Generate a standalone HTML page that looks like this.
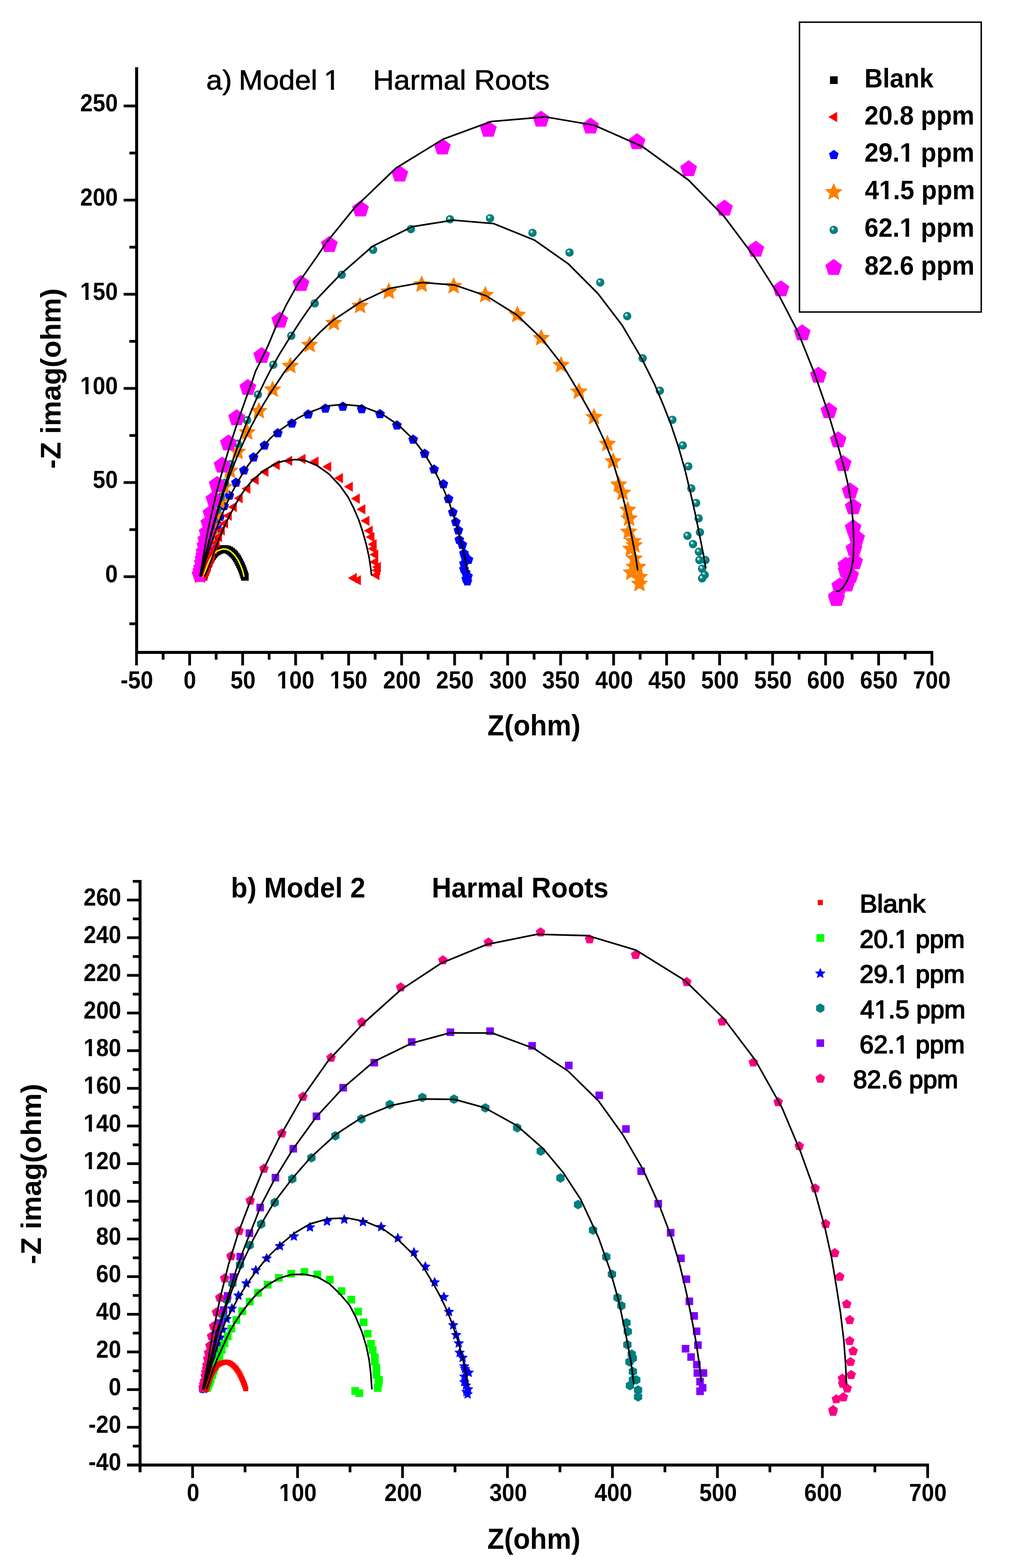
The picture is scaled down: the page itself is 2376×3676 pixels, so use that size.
<!DOCTYPE html>
<html lang="en"><head><meta charset="utf-8"><title>Nyquist plots - Harmal Roots</title>
<style>
html,body{margin:0;padding:0;background:#fff}
body{width:2376px;height:3676px}
svg{display:block}
text{fill:#000;font-kerning:none}
</style></head><body>
<svg width="2376" height="3676" viewBox="0 0 2376 3676" font-family="'Liberation Sans', sans-serif" role="img" aria-label="Nyquist plots of Harmal Roots extract, model 1 and model 2">
<defs><radialGradient id="gs" cx="0.5" cy="0.5" r="0.5" fx="0.33" fy="0.3"><stop offset="0" stop-color="#ffffff"/><stop offset="0.14" stop-color="#e0f0f0"/><stop offset="0.34" stop-color="#349999"/><stop offset="0.52" stop-color="#008080"/><stop offset="1" stop-color="#007a7a"/></radialGradient><polygon id="bR" points="-6,-6 6,-6 6,6 -6,6" fill="#ff0000"/><polygon id="bG" points="-9,-9 9,-9 9,9 -9,9" fill="#00ff00"/><polygon id="bB" points="0,-11.4 3.08,-4.24 10.84,-3.52 4.99,1.62 6.7,9.22 0,5.24 -6.7,9.22 -4.99,1.62 -10.84,-3.52 -3.08,-4.24" fill="#0000ff" stroke="#0000ff" stroke-width="1.6" stroke-linejoin="round"/><polygon id="bT" points="0,-11.2 9.7,-5.6 9.7,5.6 0,11.2 -9.7,5.6 -9.7,-5.6" fill="#008080"/><polygon id="bP" points="-8.9,-8.9 8.9,-8.9 8.9,8.9 -8.9,8.9" fill="#8000ff"/><polygon id="bK" points="0,-11.8 11.22,-3.65 6.94,9.55 -6.94,9.55 -11.22,-3.65" fill="#ff0080"/><polygon id="aK" points="-9,-9 9,-9 9,9 -9,9" fill="#000000"/><polygon id="aR" points="-13.8,0 6.9,-11.95 6.9,11.95" fill="#ff0000"/><polygon id="aB" points="0,-12 11.41,-3.71 7.05,9.71 -7.05,9.71 -11.41,-3.71" fill="#0000ff"/><polygon id="aO" points="0,-19.9 5.38,-7.41 18.93,-6.15 8.71,2.83 11.7,16.1 0,9.15 -11.7,16.1 -8.71,2.83 -18.93,-6.15 -5.38,-7.41" fill="#ff8000" stroke="#ff8000" stroke-width="1.6" stroke-linejoin="round"/><circle id="aT" r="9.8" fill="url(#gs)"/><polygon id="aM" points="0,-20.7 19.69,-6.4 12.17,16.75 -12.17,16.75 -19.69,-6.4" fill="#ff00ff"/></defs>
<rect width="2376" height="3676" fill="#fff"/>
<g id="plotA">
<g><use href="#aK" x="477.5" y="1352.2"/><use href="#aK" x="479" y="1347.2"/><use href="#aK" x="480.6" y="1342.2"/><use href="#aK" x="482.2" y="1337.2"/><use href="#aK" x="483.9" y="1332.3"/><use href="#aK" x="485.7" y="1327.4"/><use href="#aK" x="487.6" y="1322.5"/><use href="#aK" x="489.6" y="1317.6"/><use href="#aK" x="491.8" y="1312.9"/><use href="#aK" x="494.4" y="1308.4"/><use href="#aK" x="497.3" y="1304"/><use href="#aK" x="500.4" y="1299.8"/><use href="#aK" x="503.9" y="1295.9"/><use href="#aK" x="508.1" y="1292.8"/><use href="#aK" x="512.7" y="1290.4"/><use href="#aK" x="517.6" y="1288.5"/><use href="#aK" x="522.7" y="1287.3"/><use href="#aK" x="527.9" y="1287.2"/><use href="#aK" x="533" y="1288.3"/><use href="#aK" x="537.8" y="1290.5"/><use href="#aK" x="542.1" y="1293.5"/><use href="#aK" x="546" y="1296.9"/><use href="#aK" x="549.6" y="1300.7"/><use href="#aK" x="552.8" y="1304.8"/><use href="#aK" x="555.8" y="1309.1"/><use href="#aK" x="558.4" y="1313.6"/><use href="#aK" x="560.8" y="1318.3"/><use href="#aK" x="563.1" y="1323"/><use href="#aK" x="565.3" y="1327.7"/><use href="#aK" x="567.4" y="1332.6"/><use href="#aK" x="569.3" y="1337.4"/><use href="#aK" x="571" y="1342.4"/><use href="#aK" x="572.7" y="1347.3"/><use href="#aK" x="574.3" y="1352.3"/></g>
<g><use href="#aB" x="471.4" y="1350.2"/><use href="#aB" x="471.4" y="1350.2"/><use href="#aB" x="472.1" y="1348.1"/><use href="#aB" x="472.8" y="1346"/><use href="#aB" x="473.5" y="1344"/><use href="#aB" x="474.2" y="1341.9"/><use href="#aB" x="475" y="1339.8"/><use href="#aB" x="475.7" y="1337.7"/><use href="#aB" x="476.4" y="1335.7"/><use href="#aB" x="477.1" y="1333.6"/><use href="#aB" x="477.9" y="1331.5"/><use href="#aB" x="478.6" y="1329.4"/><use href="#aB" x="479.3" y="1327.3"/><use href="#aB" x="480.1" y="1324.9"/><use href="#aB" x="481.1" y="1322.2"/><use href="#aB" x="482.2" y="1319"/><use href="#aB" x="483.4" y="1315.4"/><use href="#aB" x="484.8" y="1311.2"/><use href="#aB" x="486.4" y="1306.4"/><use href="#aB" x="488.2" y="1300.8"/><use href="#aB" x="490.3" y="1294.4"/><use href="#aB" x="492.7" y="1287.1"/><use href="#aB" x="495.4" y="1278.7"/><use href="#aB" x="498.3" y="1268.9"/><use href="#aB" x="501.7" y="1257.7"/><use href="#aB" x="505.5" y="1244.8"/><use href="#aB" x="510.4" y="1230.1"/><use href="#aB" x="516.3" y="1211.6"/><use href="#aB" x="525.4" y="1186.4"/><use href="#aB" x="538" y="1161.9"/><use href="#aB" x="553.5" y="1131.5"/><use href="#aB" x="572.1" y="1102.9"/><use href="#aB" x="594.6" y="1072.3"/><use href="#aB" x="620.3" y="1044.4"/><use href="#aB" x="651.6" y="1015.6"/><use href="#aB" x="684.6" y="992.8"/><use href="#aB" x="722.8" y="971.5"/><use href="#aB" x="763.2" y="957.7"/><use href="#aB" x="804.1" y="953.3"/><use href="#aB" x="848.4" y="959"/><use href="#aB" x="891.4" y="970.7"/><use href="#aB" x="931" y="997.2"/><use href="#aB" x="969.1" y="1030.5"/><use href="#aB" x="996.1" y="1063.7"/><use href="#aB" x="1018.2" y="1100.6"/><use href="#aB" x="1040" y="1135"/><use href="#aB" x="1052.1" y="1169.8"/><use href="#aB" x="1062.1" y="1201.1"/><use href="#aB" x="1069.2" y="1224"/><use href="#aB" x="1075.2" y="1243.5"/><use href="#aB" x="1077.3" y="1265.5"/><use href="#aB" x="1084.4" y="1277.2"/><use href="#aB" x="1088.3" y="1297.5"/><use href="#aB" x="1089.9" y="1303.4"/><use href="#aB" x="1098.8" y="1312.3"/><use href="#aB" x="1088.3" y="1321.4"/><use href="#aB" x="1088.3" y="1334.4"/><use href="#aB" x="1092.4" y="1342.4"/><use href="#aB" x="1097.5" y="1351.2"/><use href="#aB" x="1096.2" y="1362.9"/><use href="#aB" x="1093.4" y="1357.4"/></g>
<g><use href="#aO" x="469.3" y="1350.2"/><use href="#aO" x="470.9" y="1344.7"/><use href="#aO" x="473.6" y="1334.7"/><use href="#aO" x="476.8" y="1323.2"/><use href="#aO" x="480.5" y="1309.9"/><use href="#aO" x="484.7" y="1294.7"/><use href="#aO" x="489.4" y="1277.2"/><use href="#aO" x="494.1" y="1256.9"/><use href="#aO" x="499.6" y="1233.6"/><use href="#aO" x="506.5" y="1206.9"/><use href="#aO" x="515.9" y="1176.7"/><use href="#aO" x="525.7" y="1141.6"/><use href="#aO" x="539.1" y="1103.6"/><use href="#aO" x="557.2" y="1059.4"/><use href="#aO" x="579.8" y="1013.6"/><use href="#aO" x="607.2" y="963.9"/><use href="#aO" x="639.4" y="913.4"/><use href="#aO" x="680.9" y="858"/><use href="#aO" x="726.2" y="808.6"/><use href="#aO" x="782.9" y="757.2"/><use href="#aO" x="844.5" y="717.2"/><use href="#aO" x="911.9" y="683.7"/><use href="#aO" x="989" y="667.1"/><use href="#aO" x="1064" y="671"/><use href="#aO" x="1138.2" y="691.7"/><use href="#aO" x="1213.6" y="738.2"/><use href="#aO" x="1269.4" y="792.8"/><use href="#aO" x="1316" y="855.9"/><use href="#aO" x="1357.8" y="918.2"/><use href="#aO" x="1393.2" y="978"/><use href="#aO" x="1424.7" y="1040.8"/><use href="#aO" x="1438" y="1081.6"/><use href="#aO" x="1451.2" y="1136.4"/><use href="#aO" x="1460.3" y="1155.4"/><use href="#aO" x="1472.4" y="1195.4"/><use href="#aO" x="1475.6" y="1215.8"/><use href="#aO" x="1474.6" y="1246.8"/><use href="#aO" x="1484.9" y="1269"/><use href="#aO" x="1487.6" y="1278.5"/><use href="#aO" x="1479.4" y="1286.9"/><use href="#aO" x="1487.6" y="1309.6"/><use href="#aO" x="1487.7" y="1329"/><use href="#aO" x="1495.7" y="1329.2"/><use href="#aO" x="1480.6" y="1342.6"/><use href="#aO" x="1499.9" y="1353"/><use href="#aO" x="1499.9" y="1368.9"/></g>
<g><use href="#aT" x="469.8" y="1350.2"/><use href="#aT" x="471" y="1345.8"/><use href="#aT" x="472.6" y="1339.7"/><use href="#aT" x="474.5" y="1332.5"/><use href="#aT" x="476.6" y="1324.4"/><use href="#aT" x="479" y="1315"/><use href="#aT" x="481.9" y="1304.2"/><use href="#aT" x="485.1" y="1291.8"/><use href="#aT" x="488.7" y="1277.5"/><use href="#aT" x="492.4" y="1261"/><use href="#aT" x="496.7" y="1242"/><use href="#aT" x="501.6" y="1220.2"/><use href="#aT" x="509.4" y="1195.8"/><use href="#aT" x="518.1" y="1165.5"/><use href="#aT" x="527.7" y="1132.3"/><use href="#aT" x="541.4" y="1088"/><use href="#aT" x="557.6" y="1040.3"/><use href="#aT" x="579.4" y="985.2"/><use href="#aT" x="605" y="925.1"/><use href="#aT" x="641" y="855.1"/><use href="#aT" x="683.2" y="787.3"/><use href="#aT" x="738.2" y="711.2"/><use href="#aT" x="801.5" y="644.2"/><use href="#aT" x="875.2" y="585.5"/><use href="#aT" x="963.7" y="537.1"/><use href="#aT" x="1055.4" y="514.1"/><use href="#aT" x="1149.4" y="511.7"/><use href="#aT" x="1249" y="546"/><use href="#aT" x="1335.8" y="592"/><use href="#aT" x="1407.9" y="662.1"/><use href="#aT" x="1471.1" y="741.1"/><use href="#aT" x="1507.3" y="840"/><use href="#aT" x="1547.7" y="916.1"/><use href="#aT" x="1577.1" y="984.2"/><use href="#aT" x="1601.4" y="1044.2"/><use href="#aT" x="1614.3" y="1093.2"/><use href="#aT" x="1621.4" y="1145"/><use href="#aT" x="1632.7" y="1179.2"/><use href="#aT" x="1638.6" y="1215.2"/><use href="#aT" x="1641.7" y="1247.7"/><use href="#aT" x="1612.4" y="1256.1"/><use href="#aT" x="1625.5" y="1275.6"/><use href="#aT" x="1639.2" y="1293.6"/><use href="#aT" x="1640.4" y="1313.1"/><use href="#aT" x="1654.7" y="1313.1"/><use href="#aT" x="1646.8" y="1333.2"/><use href="#aT" x="1652.8" y="1347.7"/><use href="#aT" x="1646.8" y="1355.9"/></g>
<g><use href="#aM" x="469.4" y="1347.7"/><use href="#aM" x="471.2" y="1339.9"/><use href="#aM" x="472.8" y="1332.1"/><use href="#aM" x="474.7" y="1320.4"/><use href="#aM" x="476" y="1311.3"/><use href="#aM" x="477.9" y="1303.6"/><use href="#aM" x="478.6" y="1294.5"/><use href="#aM" x="480.5" y="1280.2"/><use href="#aM" x="482.6" y="1265.9"/><use href="#aM" x="485.8" y="1249"/><use href="#aM" x="489.7" y="1226.9"/><use href="#aM" x="494.7" y="1203.7"/><use href="#aM" x="501.6" y="1170.8"/><use href="#aM" x="509.3" y="1136.5"/><use href="#aM" x="520.9" y="1091.1"/><use href="#aM" x="535.8" y="1039.1"/><use href="#aM" x="555" y="980"/><use href="#aM" x="581.3" y="908.9"/><use href="#aM" x="613.7" y="834.1"/><use href="#aM" x="656.1" y="751.3"/><use href="#aM" x="706" y="665.3"/><use href="#aM" x="772.6" y="573.9"/><use href="#aM" x="845.7" y="490.6"/><use href="#aM" x="937.8" y="408.8"/><use href="#aM" x="1037.6" y="345.3"/><use href="#aM" x="1145.5" y="303.7"/><use href="#aM" x="1269" y="279.9"/><use href="#aM" x="1385.1" y="296.3"/><use href="#aM" x="1494.1" y="332.8"/><use href="#aM" x="1615.2" y="396.3"/><use href="#aM" x="1699.2" y="488.8"/><use href="#aM" x="1772.8" y="585"/><use href="#aM" x="1831.7" y="677.8"/><use href="#aM" x="1881.7" y="781"/><use href="#aM" x="1919.5" y="880.2"/><use href="#aM" x="1944.2" y="963.6"/><use href="#aM" x="1965.8" y="1031.8"/><use href="#aM" x="1977.7" y="1087.5"/><use href="#aM" x="1994.1" y="1151.7"/><use href="#aM" x="2001.2" y="1188.8"/><use href="#aM" x="2001.2" y="1237.9"/><use href="#aM" x="2009.3" y="1261.8"/><use href="#aM" x="2003" y="1287"/><use href="#aM" x="2004.6" y="1317.6"/><use href="#aM" x="1983.8" y="1325.9"/><use href="#aM" x="1984.6" y="1338.2"/><use href="#aM" x="1995.1" y="1349.3"/><use href="#aM" x="1986.2" y="1369.8"/><use href="#aM" x="1969.5" y="1374.5"/><use href="#aM" x="1961.8" y="1399.8"/><use href="#aM" x="1961.8" y="1403.8"/></g>
<g><use href="#aR" x="479.2" y="1348.1"/><use href="#aR" x="481.2" y="1343.6"/><use href="#aR" x="483.2" y="1339"/><use href="#aR" x="485.5" y="1333.5"/><use href="#aR" x="487.8" y="1328"/><use href="#aR" x="491.8" y="1317.6"/><use href="#aR" x="495" y="1307.8"/><use href="#aR" x="497.6" y="1298.7"/><use href="#aR" x="502.6" y="1287.4"/><use href="#aR" x="508.4" y="1272.8"/><use href="#aR" x="513.8" y="1259.1"/><use href="#aR" x="520.2" y="1243.6"/><use href="#aR" x="528.1" y="1227"/><use href="#aR" x="536.6" y="1209.1"/><use href="#aR" x="548.4" y="1188.7"/><use href="#aR" x="562.2" y="1168"/><use href="#aR" x="580.3" y="1145.8"/><use href="#aR" x="599.7" y="1125"/><use href="#aR" x="622.7" y="1106.1"/><use href="#aR" x="649.1" y="1090"/><use href="#aR" x="678.4" y="1080.2"/><use href="#aR" x="709.7" y="1076"/><use href="#aR" x="740.2" y="1082.1"/><use href="#aR" x="770" y="1094.2"/><use href="#aR" x="797.5" y="1121"/><use href="#aR" x="820.6" y="1141.1"/><use href="#aR" x="836.9" y="1169"/><use href="#aR" x="850" y="1194"/><use href="#aR" x="859.6" y="1221"/><use href="#aR" x="867.2" y="1244.3"/><use href="#aR" x="871.4" y="1259.1"/><use href="#aR" x="876.4" y="1276"/><use href="#aR" x="876.4" y="1286.4"/><use href="#aR" x="880.3" y="1300.2"/><use href="#aR" x="880.3" y="1317.6"/><use href="#aR" x="886.4" y="1329.3"/><use href="#aR" x="885.1" y="1337.1"/><use href="#aR" x="883.1" y="1348.2"/><use href="#aR" x="829.9" y="1355.2"/><use href="#aR" x="839.6" y="1360.4"/></g>
<polyline points="476.8,1352.2 477.8,1349.5 478.7,1346.7 479.7,1344 480.7,1341.3 481.6,1338.5 482.6,1335.8 483.7,1333.1 484.7,1330.4 485.7,1327.7 486.7,1324.9 487.7,1322.2 488.8,1319.5 489.9,1316.9 491.1,1314.2 492.5,1311.7 493.9,1309.2 495.4,1306.7 497,1304.3 498.7,1301.9 500.5,1299.7 502.4,1297.5 504.5,1295.4 506.8,1293.6 509.2,1292.1 511.8,1290.8 514.5,1289.6 517.2,1288.6 520,1287.8 522.8,1287.3 525.7,1287.1 528.6,1287.2 531.4,1287.8 534.2,1288.7 536.8,1289.9 539.3,1291.4 541.6,1293.1 543.9,1295 546,1296.9 548,1299 550,1301.2 551.8,1303.4 553.5,1305.8 555.1,1308.2 556.7,1310.6 558.2,1313.1 559.5,1315.7 560.9,1318.2 562.1,1320.8 563.3,1323.5 564.5,1326.1 565.7,1328.8 566.7,1331.5 567.7,1334.2 568.6,1337 569.5,1339.7 570.2,1342.5 570.9,1345.4 571.5,1348.2 572.2,1351" fill="none" stroke="#ffff00" stroke-width="3.4" stroke-linejoin="round" stroke-linecap="round"/>
<polyline points="479.2,1351.2 482,1346 490.4,1326.5 498.2,1305.7 505.8,1284.9 513.6,1264.2 522.8,1242.1 533,1220 543.5,1199.4 553.9,1179.9 564.3,1161.7 577.3,1143.5 592.9,1125.3 612.3,1108.4 631.8,1095.5 650,1085.1 664.3,1081.2 691.6,1077.3 714.6,1079.2 743.8,1091.6 771.4,1111 797.4,1138.6 816.9,1166.2 829.9,1192.2 841.2,1218.2 851,1247.4 859.1,1276.6 865.6,1305.8 869.5,1331.8 871.4,1348.1" fill="none" stroke="#000" stroke-width="3.8" stroke-linejoin="round" stroke-linecap="round"/>
<polyline points="472,1349.9 483.7,1310 496.1,1272 503.8,1250 507.6,1239.6 514.6,1221.4 522,1203.2 529.8,1185.1 538.2,1166.9 547.3,1148.7 557.1,1130.5 567.9,1112.3 580.6,1092.9 595.7,1072.1 614.9,1050 633.2,1028.4 648.8,1014.2 667,1001.2 685.7,988.5 700,979.5 726,966.6 764.9,951.9 803.9,948.1 846.1,951.9 894.8,969.8 933.8,995.8 969.5,1029.9 995.5,1064 1018.2,1101.3 1037.7,1140.3 1053.9,1179.2 1066.9,1218.2 1078.2,1257.1 1088,1296.1 1094.5,1328.6 1097.7,1343.2" fill="none" stroke="#000" stroke-width="3.8" stroke-linejoin="round" stroke-linecap="round"/>
<polyline points="471,1349.9 481.1,1310 490.6,1272 496.4,1250 504,1222.7 510,1201.9 516.7,1179.9 525.1,1153.9 531.3,1135.7 539.3,1113.6 547.2,1092.9 556.2,1070.8 561.5,1058.3 569,1041.4 580,1018.1 589.7,998.6 599.3,980.4 610.2,960.9 621.7,941.4 636.3,918.1 653.8,892.1 668.3,870 694.8,839.6 720.1,810.4 751.3,778.2 781.2,751 844.2,709.1 914.3,676 990.3,662.3 1066.2,668.2 1140.3,693.5 1212.3,738.3 1271.5,795 1320.8,857.8 1355.8,916.2 1375,950 1396.8,989 1417.5,1033.1 1438.3,1085.1 1453.9,1137 1466.9,1189 1477.3,1235.7 1485.1,1274.7 1491.6,1308.4 1495.5,1335.7" fill="none" stroke="#000" stroke-width="3.8" stroke-linejoin="round" stroke-linecap="round"/>
<polyline points="470.5,1349.9 479.4,1310 489.1,1272 495,1250 499.9,1231.8 507.2,1205.8 514.7,1179.9 522.5,1153.9 530.5,1127.9 538.8,1101.9 547.4,1076 556.3,1050 557,1047.9 565,1025.8 572.7,1005.1 580.8,984.3 590.4,960.9 599.3,940.1 609.9,916.8 623.1,889.5 633.2,870 655.8,829.9 681.2,789 706.5,750 733.8,711 772.7,670.1 800,641.9 874,577.3 967.5,531.3 1062.5,516.2 1157.8,524.2 1253.8,563 1332.5,618.2 1402.6,688.3 1459.1,762.3 1503.9,838.3 1535.1,900.6 1556,950 1573.4,994.2 1591.6,1048.7 1607.1,1103.2 1620.1,1157.8 1631.8,1209.7 1642.2,1261.7 1650,1300.6 1655.2,1330.5" fill="none" stroke="#000" stroke-width="3.8" stroke-linejoin="round" stroke-linecap="round"/>
<polyline points="469.5,1349.9 475.8,1310.9 482.5,1272 489.2,1237.5 494.5,1212.3 500.7,1185.1 507.3,1157.8 514.3,1130.5 521.5,1104.5 529.7,1076 537.7,1050 540.8,1040 548.3,1016.8 556.5,992.1 565,967.4 573.8,942.7 582.6,918.1 591.7,893.4 599.5,870 609.1,851 628.6,810.4 648.1,763.6 671.4,714.9 700.6,662.3 744.5,600 764.9,569.5 831.2,487.7 928.6,394.2 1039.3,326.3 1151.9,284.9 1278.6,274 1393.5,293.5 1506.5,343.4 1614.9,422.1 1698.7,507.8 1768.8,601.3 1827.3,692.9 1871.4,777.9 1910.4,875.3 1941.6,964.9 1964.9,1042.9 1979.2,1094.2 1989.6,1138.3 1997.4,1185.1 2001.3,1231.8 2002.6,1273.4 2001.3,1309.7 1996.1,1338.3 1987,1361.7 1976.6,1378.6 1968.8,1385.1 1962.3,1386.4" fill="none" stroke="#000" stroke-width="3.8" stroke-linejoin="round" stroke-linecap="round"/>
<g fill="#000">
<rect x="317" y="157.5" width="7" height="1375.5"/>
<rect x="317" y="1526" width="1872" height="7"/>
<rect x="290" y="1348.8" width="28" height="6.4"/>
<rect x="290" y="1128.08" width="28" height="6.4"/>
<rect x="290" y="907.36" width="28" height="6.4"/>
<rect x="290" y="686.64" width="28" height="6.4"/>
<rect x="290" y="465.92" width="28" height="6.4"/>
<rect x="290" y="245.2" width="28" height="6.4"/>
<rect x="303.5" y="1459.16" width="14.5" height="6.4"/>
<rect x="303.5" y="1238.44" width="14.5" height="6.4"/>
<rect x="303.5" y="1017.72" width="14.5" height="6.4"/>
<rect x="303.5" y="797" width="14.5" height="6.4"/>
<rect x="303.5" y="576.28" width="14.5" height="6.4"/>
<rect x="303.5" y="355.56" width="14.5" height="6.4"/>
<rect x="317" y="1529.5" width="6.4" height="30.5"/>
<rect x="441.6" y="1529.5" width="6.4" height="30.5"/>
<rect x="565.9" y="1529.5" width="6.4" height="30.5"/>
<rect x="690.21" y="1529.5" width="6.4" height="30.5"/>
<rect x="814.51" y="1529.5" width="6.4" height="30.5"/>
<rect x="938.82" y="1529.5" width="6.4" height="30.5"/>
<rect x="1063.12" y="1529.5" width="6.4" height="30.5"/>
<rect x="1187.43" y="1529.5" width="6.4" height="30.5"/>
<rect x="1311.73" y="1529.5" width="6.4" height="30.5"/>
<rect x="1436.04" y="1529.5" width="6.4" height="30.5"/>
<rect x="1560.34" y="1529.5" width="6.4" height="30.5"/>
<rect x="1684.65" y="1529.5" width="6.4" height="30.5"/>
<rect x="1808.95" y="1529.5" width="6.4" height="30.5"/>
<rect x="1933.26" y="1529.5" width="6.4" height="30.5"/>
<rect x="2057.57" y="1529.5" width="6.4" height="30.5"/>
<rect x="2182.6" y="1529.5" width="6.4" height="30.5"/>
<rect x="379.45" y="1529.5" width="6.4" height="17"/>
<rect x="503.75" y="1529.5" width="6.4" height="17"/>
<rect x="628.06" y="1529.5" width="6.4" height="17"/>
<rect x="752.36" y="1529.5" width="6.4" height="17"/>
<rect x="876.67" y="1529.5" width="6.4" height="17"/>
<rect x="1000.97" y="1529.5" width="6.4" height="17"/>
<rect x="1125.28" y="1529.5" width="6.4" height="17"/>
<rect x="1249.58" y="1529.5" width="6.4" height="17"/>
<rect x="1373.89" y="1529.5" width="6.4" height="17"/>
<rect x="1498.19" y="1529.5" width="6.4" height="17"/>
<rect x="1622.5" y="1529.5" width="6.4" height="17"/>
<rect x="1746.8" y="1529.5" width="6.4" height="17"/>
<rect x="1871.11" y="1529.5" width="6.4" height="17"/>
<rect x="1995.41" y="1529.5" width="6.4" height="17"/>
<rect x="2119.72" y="1529.5" width="6.4" height="17"/>
</g>
<text transform="translate(246.83,1365) scale(0.913,1)" font-size="58" font-weight="bold">0</text>
<text transform="translate(217.44,1144.28) scale(0.913,1)" font-size="58" font-weight="bold">50</text>
<text transform="translate(188.05,923.56) scale(0.913,1)" font-size="58" font-weight="bold">100</text><rect x="189.79" y="915.14" width="10.45" height="10.52" fill="#fff"/><rect x="207.85" y="915.14" width="9.76" height="10.52" fill="#fff"/>
<text transform="translate(188.05,702.84) scale(0.913,1)" font-size="58" font-weight="bold">150</text><rect x="189.79" y="694.42" width="10.45" height="10.52" fill="#fff"/><rect x="207.85" y="694.42" width="9.76" height="10.52" fill="#fff"/>
<text transform="translate(188.05,482.12) scale(0.913,1)" font-size="58" font-weight="bold">200</text>
<text transform="translate(188.05,261.4) scale(0.913,1)" font-size="58" font-weight="bold">250</text>
<text transform="translate(282.74,1614.3) scale(0.913,1)" font-size="58" font-weight="bold">-50</text>
<text transform="translate(430.61,1614.3) scale(0.913,1)" font-size="58" font-weight="bold">0</text>
<text transform="translate(540.48,1614.3) scale(0.913,1)" font-size="58" font-weight="bold">50</text>
<text transform="translate(649.16,1614.3) scale(0.913,1)" font-size="58" font-weight="bold">100</text><rect x="650.9" y="1605.88" width="10.45" height="10.52" fill="#fff"/><rect x="668.96" y="1605.88" width="9.76" height="10.52" fill="#fff"/>
<text transform="translate(773.47,1614.3) scale(0.913,1)" font-size="58" font-weight="bold">150</text><rect x="775.2" y="1605.88" width="10.45" height="10.52" fill="#fff"/><rect x="793.26" y="1605.88" width="9.76" height="10.52" fill="#fff"/>
<text transform="translate(898.57,1614.3) scale(0.913,1)" font-size="58" font-weight="bold">200</text>
<text transform="translate(1022.87,1614.3) scale(0.913,1)" font-size="58" font-weight="bold">250</text>
<text transform="translate(1147.44,1614.3) scale(0.913,1)" font-size="58" font-weight="bold">300</text>
<text transform="translate(1271.75,1614.3) scale(0.913,1)" font-size="58" font-weight="bold">350</text>
<text transform="translate(1396.32,1614.3) scale(0.913,1)" font-size="58" font-weight="bold">400</text>
<text transform="translate(1520.62,1614.3) scale(0.913,1)" font-size="58" font-weight="bold">450</text>
<text transform="translate(1644.53,1614.3) scale(0.913,1)" font-size="58" font-weight="bold">500</text>
<text transform="translate(1768.84,1614.3) scale(0.913,1)" font-size="58" font-weight="bold">550</text>
<text transform="translate(1893.01,1614.3) scale(0.913,1)" font-size="58" font-weight="bold">600</text>
<text transform="translate(2017.31,1614.3) scale(0.913,1)" font-size="58" font-weight="bold">650</text>
<text transform="translate(2141.35,1614.3) scale(0.913,1)" font-size="58" font-weight="bold">700</text>
<text transform="translate(483.75,210) scale(1.045,1)" font-size="64.8" font-weight="normal" stroke="#000" stroke-width="0.96" stroke-linejoin="round">a)</text>
<text transform="translate(559.98,210) scale(1.045,1)" font-size="64.8" font-weight="normal" stroke="#000" stroke-width="0.96" stroke-linejoin="round">Model</text>
<text transform="translate(759.72,210) scale(1.045,1)" font-size="64.8" font-weight="normal" stroke="#000" stroke-width="0.96" stroke-linejoin="round">1</text><rect x="762.77" y="202.14" width="13.3" height="10.46" fill="#fff"/><rect x="783.39" y="202.14" width="12.76" height="10.46" fill="#fff"/>
<text transform="translate(875.08,210) scale(1.045,1)" font-size="64.8" font-weight="normal" stroke="#000" stroke-width="0.96" stroke-linejoin="round">Harmal</text>
<text transform="translate(1112.18,210) scale(1.045,1)" font-size="64.8" font-weight="normal" stroke="#000" stroke-width="0.96" stroke-linejoin="round">Roots</text>
<text transform="translate(1143.31,1723.8) scale(0.934,1)" font-size="69" font-weight="bold">Z(ohm)</text>
<text transform="translate(141.8,1099.05) rotate(-90) scale(1,1)" font-size="66.8" font-weight="bold">-Z imag(ohm)</text>
<rect x="1875.2" y="52" width="426.3" height="679.5" fill="#fff" stroke="#000" stroke-width="3.4"/>
<use href="#aK" x="1955.8" y="187.9"/>
<text transform="translate(2027.53,204.5) scale(0.96,1)" font-size="62" font-weight="bold">Blank</text>
<use href="#aR" x="1956.6" y="274.2"/>
<text transform="translate(2027.42,291.6) scale(0.96,1)" font-size="62" font-weight="bold">20.8 ppm</text>
<use href="#aB" x="1955.8" y="363.3"/>
<text transform="translate(2027.42,379.2) scale(0.96,1)" font-size="62" font-weight="bold">29.1 ppm</text><rect x="2112.31" y="370.38" width="11.57" height="10.92" fill="#fff"/><rect x="2132.39" y="370.38" width="10.79" height="10.92" fill="#fff"/>
<use href="#aO" x="1955.5" y="450.8"/>
<text transform="translate(2028.61,466.6) scale(0.96,1)" font-size="62" font-weight="bold">41.5 ppm</text><rect x="2063.86" y="457.78" width="11.57" height="10.92" fill="#fff"/><rect x="2083.94" y="457.78" width="10.79" height="10.92" fill="#fff"/>
<use href="#aT" x="1955.5" y="539"/>
<text transform="translate(2027.42,555) scale(0.96,1)" font-size="62" font-weight="bold">62.1 ppm</text><rect x="2112.31" y="546.18" width="11.57" height="10.92" fill="#fff"/><rect x="2132.39" y="546.18" width="10.79" height="10.92" fill="#fff"/>
<use href="#aM" x="1955.5" y="627.8"/>
<text transform="translate(2027.71,644.3) scale(0.96,1)" font-size="62" font-weight="bold">82.6 ppm</text>
</g>
<g id="plotB">
<g><use href="#bB" x="478" y="3256"/><use href="#bB" x="478" y="3256"/><use href="#bB" x="478.7" y="3253.9"/><use href="#bB" x="479.4" y="3251.8"/><use href="#bB" x="480.1" y="3249.8"/><use href="#bB" x="480.9" y="3247.7"/><use href="#bB" x="481.6" y="3245.6"/><use href="#bB" x="482.3" y="3243.5"/><use href="#bB" x="483" y="3241.4"/><use href="#bB" x="483.7" y="3239.4"/><use href="#bB" x="484.4" y="3237.3"/><use href="#bB" x="485.1" y="3235.2"/><use href="#bB" x="485.9" y="3233.1"/><use href="#bB" x="486.7" y="3230.7"/><use href="#bB" x="487.6" y="3228"/><use href="#bB" x="488.7" y="3224.8"/><use href="#bB" x="490" y="3221.2"/><use href="#bB" x="491.3" y="3217"/><use href="#bB" x="492.9" y="3212.2"/><use href="#bB" x="494.7" y="3206.6"/><use href="#bB" x="496.8" y="3200.2"/><use href="#bB" x="499.1" y="3192.9"/><use href="#bB" x="501.8" y="3184.5"/><use href="#bB" x="504.7" y="3174.7"/><use href="#bB" x="508" y="3163.5"/><use href="#bB" x="511.8" y="3150.6"/><use href="#bB" x="516.7" y="3135.9"/><use href="#bB" x="522.5" y="3117.4"/><use href="#bB" x="531.5" y="3092.2"/><use href="#bB" x="544" y="3067.7"/><use href="#bB" x="559.3" y="3037.3"/><use href="#bB" x="577.8" y="3008.7"/><use href="#bB" x="600" y="2978.1"/><use href="#bB" x="625.5" y="2950.2"/><use href="#bB" x="656.5" y="2921.4"/><use href="#bB" x="689.2" y="2898.6"/><use href="#bB" x="727" y="2877.3"/><use href="#bB" x="767" y="2863.5"/><use href="#bB" x="807.5" y="2859.1"/><use href="#bB" x="851.4" y="2864.8"/><use href="#bB" x="894" y="2876.5"/><use href="#bB" x="933.2" y="2903"/><use href="#bB" x="970.9" y="2936.3"/><use href="#bB" x="997.7" y="2969.5"/><use href="#bB" x="1019.5" y="3006.4"/><use href="#bB" x="1041.1" y="3040.8"/><use href="#bB" x="1053.1" y="3075.6"/><use href="#bB" x="1063" y="3106.9"/><use href="#bB" x="1070" y="3129.8"/><use href="#bB" x="1076" y="3149.3"/><use href="#bB" x="1078.1" y="3171.3"/><use href="#bB" x="1085.1" y="3183"/><use href="#bB" x="1089" y="3203.3"/><use href="#bB" x="1090.5" y="3209.2"/><use href="#bB" x="1099.4" y="3218.1"/><use href="#bB" x="1089" y="3227.2"/><use href="#bB" x="1089" y="3240.2"/><use href="#bB" x="1093" y="3248.2"/><use href="#bB" x="1098.1" y="3257"/><use href="#bB" x="1096.8" y="3268.7"/><use href="#bB" x="1094" y="3263.2"/></g>
<g><use href="#bT" x="476" y="3256"/><use href="#bT" x="477.5" y="3250.5"/><use href="#bT" x="480.3" y="3240.5"/><use href="#bT" x="483.4" y="3229"/><use href="#bT" x="487" y="3215.7"/><use href="#bT" x="491.2" y="3200.5"/><use href="#bT" x="495.8" y="3183"/><use href="#bT" x="500.5" y="3162.7"/><use href="#bT" x="506" y="3139.4"/><use href="#bT" x="512.8" y="3112.7"/><use href="#bT" x="522.1" y="3082.5"/><use href="#bT" x="531.8" y="3047.4"/><use href="#bT" x="545.1" y="3009.4"/><use href="#bT" x="563" y="2965.2"/><use href="#bT" x="585.4" y="2919.4"/><use href="#bT" x="612.5" y="2869.7"/><use href="#bT" x="644.4" y="2819.2"/><use href="#bT" x="685.5" y="2763.8"/><use href="#bT" x="730.4" y="2714.4"/><use href="#bT" x="786.5" y="2663"/><use href="#bT" x="847.5" y="2623"/><use href="#bT" x="914.3" y="2589.5"/><use href="#bT" x="990.6" y="2572.9"/><use href="#bT" x="1064.9" y="2576.8"/><use href="#bT" x="1138.4" y="2597.5"/><use href="#bT" x="1213" y="2644"/><use href="#bT" x="1268.3" y="2698.6"/><use href="#bT" x="1314.5" y="2761.7"/><use href="#bT" x="1355.8" y="2824"/><use href="#bT" x="1390.9" y="2883.8"/><use href="#bT" x="1422.1" y="2946.6"/><use href="#bT" x="1435.3" y="2987.4"/><use href="#bT" x="1448.3" y="3042.2"/><use href="#bT" x="1457.4" y="3061.2"/><use href="#bT" x="1469.3" y="3101.2"/><use href="#bT" x="1472.5" y="3121.6"/><use href="#bT" x="1471.5" y="3152.6"/><use href="#bT" x="1481.7" y="3174.8"/><use href="#bT" x="1484.4" y="3184.3"/><use href="#bT" x="1476.3" y="3192.7"/><use href="#bT" x="1484.4" y="3215.4"/><use href="#bT" x="1484.5" y="3234.8"/><use href="#bT" x="1492.4" y="3235"/><use href="#bT" x="1477.5" y="3248.4"/><use href="#bT" x="1496.6" y="3258.8"/><use href="#bT" x="1496.6" y="3274.7"/></g>
<g><use href="#bP" x="476.5" y="3256"/><use href="#bP" x="477.6" y="3251.6"/><use href="#bP" x="479.2" y="3245.5"/><use href="#bP" x="481.1" y="3238.3"/><use href="#bP" x="483.2" y="3230.2"/><use href="#bP" x="485.6" y="3220.8"/><use href="#bP" x="488.4" y="3210"/><use href="#bP" x="491.6" y="3197.6"/><use href="#bP" x="495.2" y="3183.3"/><use href="#bP" x="498.9" y="3166.8"/><use href="#bP" x="503.1" y="3147.8"/><use href="#bP" x="507.9" y="3126"/><use href="#bP" x="515.7" y="3101.6"/><use href="#bP" x="524.3" y="3071.3"/><use href="#bP" x="533.8" y="3038.1"/><use href="#bP" x="547.4" y="2993.8"/><use href="#bP" x="563.4" y="2946.1"/><use href="#bP" x="585" y="2891"/><use href="#bP" x="610.3" y="2830.9"/><use href="#bP" x="646" y="2760.9"/><use href="#bP" x="687.8" y="2693.1"/><use href="#bP" x="742.3" y="2617"/><use href="#bP" x="804.9" y="2550"/><use href="#bP" x="877.9" y="2491.3"/><use href="#bP" x="965.6" y="2442.9"/><use href="#bP" x="1056.4" y="2419.9"/><use href="#bP" x="1149.5" y="2417.5"/><use href="#bP" x="1248.1" y="2451.8"/><use href="#bP" x="1334.1" y="2497.8"/><use href="#bP" x="1405.5" y="2567.9"/><use href="#bP" x="1468.1" y="2646.9"/><use href="#bP" x="1503.9" y="2745.8"/><use href="#bP" x="1543.9" y="2821.9"/><use href="#bP" x="1573" y="2890"/><use href="#bP" x="1597.1" y="2950"/><use href="#bP" x="1609.9" y="2999"/><use href="#bP" x="1616.9" y="3050.8"/><use href="#bP" x="1628.1" y="3085"/><use href="#bP" x="1633.9" y="3121"/><use href="#bP" x="1637" y="3153.5"/><use href="#bP" x="1608" y="3161.9"/><use href="#bP" x="1621" y="3181.4"/><use href="#bP" x="1634.5" y="3199.4"/><use href="#bP" x="1635.7" y="3218.9"/><use href="#bP" x="1649.9" y="3218.9"/><use href="#bP" x="1642" y="3239"/><use href="#bP" x="1648" y="3253.5"/><use href="#bP" x="1642" y="3261.7"/></g>
<g><use href="#bK" x="476.1" y="3253.5"/><use href="#bK" x="477.8" y="3245.7"/><use href="#bK" x="479.4" y="3237.9"/><use href="#bK" x="481.3" y="3226.2"/><use href="#bK" x="482.6" y="3217.1"/><use href="#bK" x="484.5" y="3209.4"/><use href="#bK" x="485.2" y="3200.3"/><use href="#bK" x="487.1" y="3186"/><use href="#bK" x="489.1" y="3171.7"/><use href="#bK" x="492.3" y="3154.8"/><use href="#bK" x="496.2" y="3132.7"/><use href="#bK" x="501.1" y="3109.5"/><use href="#bK" x="507.9" y="3076.6"/><use href="#bK" x="515.6" y="3042.3"/><use href="#bK" x="527.1" y="2996.9"/><use href="#bK" x="541.8" y="2944.9"/><use href="#bK" x="560.8" y="2885.8"/><use href="#bK" x="586.9" y="2814.7"/><use href="#bK" x="619" y="2739.9"/><use href="#bK" x="661" y="2657.1"/><use href="#bK" x="710.4" y="2571.1"/><use href="#bK" x="776.3" y="2479.7"/><use href="#bK" x="848.7" y="2396.4"/><use href="#bK" x="939.9" y="2314.6"/><use href="#bK" x="1038.8" y="2251.1"/><use href="#bK" x="1145.6" y="2209.4"/><use href="#bK" x="1267.9" y="2185.6"/><use href="#bK" x="1382.9" y="2202"/><use href="#bK" x="1490.8" y="2238.6"/><use href="#bK" x="1610.8" y="2302.1"/><use href="#bK" x="1693.9" y="2394.6"/><use href="#bK" x="1766.8" y="2490.8"/><use href="#bK" x="1825.2" y="2583.6"/><use href="#bK" x="1874.7" y="2686.8"/><use href="#bK" x="1912.1" y="2786"/><use href="#bK" x="1936.6" y="2869.4"/><use href="#bK" x="1958" y="2937.6"/><use href="#bK" x="1969.7" y="2993.3"/><use href="#bK" x="1986" y="3057.5"/><use href="#bK" x="1993" y="3094.6"/><use href="#bK" x="1993" y="3143.7"/><use href="#bK" x="2001" y="3167.6"/><use href="#bK" x="1994.8" y="3192.8"/><use href="#bK" x="1996.4" y="3223.4"/><use href="#bK" x="1975.8" y="3231.7"/><use href="#bK" x="1976.6" y="3244"/><use href="#bK" x="1987" y="3255.1"/><use href="#bK" x="1978.2" y="3275.6"/><use href="#bK" x="1961.6" y="3280.3"/><use href="#bK" x="1954" y="3305.6"/><use href="#bK" x="1954" y="3309.6"/></g>
<g><use href="#bG" x="485.8" y="3253.9"/><use href="#bG" x="487.7" y="3249.4"/><use href="#bG" x="489.7" y="3244.8"/><use href="#bG" x="492" y="3239.3"/><use href="#bG" x="494.3" y="3233.8"/><use href="#bG" x="498.2" y="3223.4"/><use href="#bG" x="501.4" y="3213.6"/><use href="#bG" x="504" y="3204.5"/><use href="#bG" x="508.9" y="3193.2"/><use href="#bG" x="514.7" y="3178.6"/><use href="#bG" x="520" y="3164.9"/><use href="#bG" x="526.4" y="3149.4"/><use href="#bG" x="534.2" y="3132.8"/><use href="#bG" x="542.6" y="3114.9"/><use href="#bG" x="554.3" y="3094.5"/><use href="#bG" x="568" y="3073.8"/><use href="#bG" x="585.9" y="3051.6"/><use href="#bG" x="605.1" y="3030.8"/><use href="#bG" x="627.9" y="3011.9"/><use href="#bG" x="654" y="2995.8"/><use href="#bG" x="683" y="2986"/><use href="#bG" x="714" y="2981.8"/><use href="#bG" x="744.2" y="2987.9"/><use href="#bG" x="773.7" y="3000"/><use href="#bG" x="801" y="3026.8"/><use href="#bG" x="823.9" y="3046.9"/><use href="#bG" x="840" y="3074.8"/><use href="#bG" x="853" y="3099.8"/><use href="#bG" x="862.5" y="3126.8"/><use href="#bG" x="870" y="3150.1"/><use href="#bG" x="874.2" y="3164.9"/><use href="#bG" x="879.1" y="3181.8"/><use href="#bG" x="879.1" y="3192.2"/><use href="#bG" x="883" y="3206"/><use href="#bG" x="883" y="3223.4"/><use href="#bG" x="889" y="3235.1"/><use href="#bG" x="887.7" y="3242.9"/><use href="#bG" x="885.8" y="3254"/><use href="#bG" x="833.1" y="3261"/><use href="#bG" x="842.7" y="3266.2"/></g>
<g><use href="#bR" x="483.5" y="3257.7"/><use href="#bR" x="485" y="3252.9"/><use href="#bR" x="486.5" y="3248.1"/><use href="#bR" x="488" y="3243.3"/><use href="#bR" x="489.7" y="3238.5"/><use href="#bR" x="491.3" y="3233.7"/><use href="#bR" x="493.1" y="3229"/><use href="#bR" x="494.9" y="3224.3"/><use href="#bR" x="497" y="3219.7"/><use href="#bR" x="499.3" y="3215.3"/><use href="#bR" x="502" y="3211"/><use href="#bR" x="504.9" y="3206.8"/><use href="#bR" x="508.1" y="3203"/><use href="#bR" x="511.9" y="3199.7"/><use href="#bR" x="516.3" y="3197.1"/><use href="#bR" x="520.9" y="3195.2"/><use href="#bR" x="525.8" y="3193.8"/><use href="#bR" x="530.8" y="3193.4"/><use href="#bR" x="535.7" y="3194.2"/><use href="#bR" x="540.3" y="3196.2"/><use href="#bR" x="544.5" y="3199.1"/><use href="#bR" x="548.3" y="3202.4"/><use href="#bR" x="551.8" y="3206"/><use href="#bR" x="555" y="3209.9"/><use href="#bR" x="557.9" y="3214"/><use href="#bR" x="560.5" y="3218.3"/><use href="#bR" x="562.9" y="3222.8"/><use href="#bR" x="565.1" y="3227.3"/><use href="#bR" x="567.3" y="3231.9"/><use href="#bR" x="569.3" y="3236.5"/><use href="#bR" x="571.3" y="3241.1"/><use href="#bR" x="573" y="3245.9"/><use href="#bR" x="574.7" y="3250.6"/><use href="#bR" x="576.3" y="3255.4"/></g>
<polyline points="475.5,3256 482,3222 489,3186 498.5,3125 504.5,3100 516.2,3043.5 535.7,2965.6 559.1,2889.6 593.2,2800 614.3,2748.7 655.8,2665.6 707.8,2574.7 770.1,2486.4 853,2398.5 939.5,2321 1035,2258 1142.9,2213.8 1259.7,2190.4 1378.6,2193.5 1491.6,2227.4 1606.5,2298.7 1697.4,2387.7 1771.4,2485.1 1833.8,2596.1 1876.6,2697.4 1911.3,2793.5 1935.1,2879.2 1950.6,2949.4 1962.3,3019.5 1971.4,3077.9 1979.2,3142.9 1983.1,3194.8 1985.5,3244.2" fill="none" stroke="#000" stroke-width="3.8" stroke-linejoin="round" stroke-linecap="round"/>
<polyline points="476.5,3256 485,3222 494,3186 507,3125 516.2,3100 533.8,3043.5 553.2,2979.2 574.7,2920.8 598.1,2862.3 611.7,2826.6 645.5,2761.7 687,2694.2 741.6,2618.8 803.9,2551.3 876.6,2489 966,2445.5 1055,2421.5 1154.5,2421.8 1251.9,2457.7 1332.5,2511 1403.9,2581.2 1461,2660.4 1507.8,2740.9 1546.8,2826.6 1575.3,2901.9 1593.5,2961.7 1609.1,3026.6 1622.1,3089 1632.5,3146.1 1640.3,3198.1 1645,3239" fill="none" stroke="#000" stroke-width="3.8" stroke-linejoin="round" stroke-linecap="round"/>
<polyline points="477,3256 486.5,3222 496.5,3186 511,3125 518.2,3100 533.8,3053.2 551.3,3004.5 570.8,2955.8 594.2,2905.2 621.4,2854.5 642.9,2818.8 684.4,2764.3 728.6,2713.6 788.3,2659.1 848.1,2620.1 918.2,2591.6 990.9,2576.5 1066.2,2577.3 1136.4,2596.8 1211.7,2638.3 1274,2692.9 1320.8,2748.7 1362.3,2812.3 1403.9,2901.9 1429.9,2974.7 1450.6,3047.4 1466.2,3120.1 1479.2,3187.7 1486.6,3244.6" fill="none" stroke="#000" stroke-width="3.8" stroke-linejoin="round" stroke-linecap="round"/>
<polyline points="478,3256 489.5,3222 501,3186 518.6,3125 527.9,3100 541.6,3074.7 557.1,3045.5 576.6,3014.3 600,2981.2 625.3,2950 654.5,2920.8 689.6,2891.6 726.3,2869.6 770.1,2857.1 814.3,2855.3 855.8,2863.6 897.4,2880.5 933.8,2906.5 970.1,2941.6 993.5,2971.4 1016.9,3010.4 1033,3040 1048.7,3072.7 1061.7,3106.5 1074.7,3145.5 1085.1,3184.4 1092.9,3218.2 1098.6,3249.4" fill="none" stroke="#000" stroke-width="3.8" stroke-linejoin="round" stroke-linecap="round"/>
<polyline points="485,3255.5 496,3222 509.7,3185 539,3121 551.3,3100 566.9,3076.6 586.4,3051.3 605.8,3029.9 629.2,3011.4 654.5,2996.8 683.8,2988 714.3,2987.5 744.2,2993.5 773,3009.8 797.7,3033.8 820.1,3060.4 834.1,3087 848.7,3122.1 859.1,3155.8 865.6,3187 869.5,3218.2 872.1,3255.8" fill="none" stroke="#000" stroke-width="3.8" stroke-linejoin="round" stroke-linecap="round"/>
<g fill="#000">
<rect x="325" y="2063" width="7" height="1375.1"/>
<rect x="298" y="3431.1" width="1881" height="7"/>
<rect x="298" y="3342.89" width="28" height="6.4"/>
<rect x="298" y="3254.6" width="28" height="6.4"/>
<rect x="298" y="3166.31" width="28" height="6.4"/>
<rect x="298" y="3078.02" width="28" height="6.4"/>
<rect x="298" y="2989.73" width="28" height="6.4"/>
<rect x="298" y="2901.44" width="28" height="6.4"/>
<rect x="298" y="2813.15" width="28" height="6.4"/>
<rect x="298" y="2724.86" width="28" height="6.4"/>
<rect x="298" y="2636.57" width="28" height="6.4"/>
<rect x="298" y="2548.28" width="28" height="6.4"/>
<rect x="298" y="2459.99" width="28" height="6.4"/>
<rect x="298" y="2371.7" width="28" height="6.4"/>
<rect x="298" y="2283.41" width="28" height="6.4"/>
<rect x="298" y="2195.12" width="28" height="6.4"/>
<rect x="298" y="2106.83" width="28" height="6.4"/>
<rect x="311.5" y="3387.04" width="14.5" height="6.4"/>
<rect x="311.5" y="3298.75" width="14.5" height="6.4"/>
<rect x="311.5" y="3210.46" width="14.5" height="6.4"/>
<rect x="311.5" y="3122.17" width="14.5" height="6.4"/>
<rect x="311.5" y="3033.88" width="14.5" height="6.4"/>
<rect x="311.5" y="2945.59" width="14.5" height="6.4"/>
<rect x="311.5" y="2857.3" width="14.5" height="6.4"/>
<rect x="311.5" y="2769.01" width="14.5" height="6.4"/>
<rect x="311.5" y="2680.72" width="14.5" height="6.4"/>
<rect x="311.5" y="2592.43" width="14.5" height="6.4"/>
<rect x="311.5" y="2504.14" width="14.5" height="6.4"/>
<rect x="311.5" y="2415.85" width="14.5" height="6.4"/>
<rect x="311.5" y="2327.56" width="14.5" height="6.4"/>
<rect x="311.5" y="2239.27" width="14.5" height="6.4"/>
<rect x="311.5" y="2150.98" width="14.5" height="6.4"/>
<rect x="311.5" y="2063" width="14.5" height="6.4"/>
<rect x="448.5" y="3434.6" width="6.4" height="30.5"/>
<rect x="694.7" y="3434.6" width="6.4" height="30.5"/>
<rect x="940.9" y="3434.6" width="6.4" height="30.5"/>
<rect x="1187.1" y="3434.6" width="6.4" height="30.5"/>
<rect x="1433.3" y="3434.6" width="6.4" height="30.5"/>
<rect x="1679.5" y="3434.6" width="6.4" height="30.5"/>
<rect x="1925.7" y="3434.6" width="6.4" height="30.5"/>
<rect x="2172.6" y="3434.6" width="6.4" height="30.5"/>
<rect x="325" y="3434.6" width="7" height="17"/>
<rect x="571.6" y="3434.6" width="6.4" height="17"/>
<rect x="817.8" y="3434.6" width="6.4" height="17"/>
<rect x="1064" y="3434.6" width="6.4" height="17"/>
<rect x="1310.2" y="3434.6" width="6.4" height="17"/>
<rect x="1556.4" y="3434.6" width="6.4" height="17"/>
<rect x="1802.6" y="3434.6" width="6.4" height="17"/>
<rect x="2048.8" y="3434.6" width="6.4" height="17"/>
</g>
<text transform="translate(207.6,3447.38) scale(0.913,1)" font-size="58" font-weight="bold">-40</text>
<text transform="translate(207.6,3359.09) scale(0.913,1)" font-size="58" font-weight="bold">-20</text>
<text transform="translate(254.73,3270.8) scale(0.913,1)" font-size="58" font-weight="bold">0</text>
<text transform="translate(225.34,3182.51) scale(0.913,1)" font-size="58" font-weight="bold">20</text>
<text transform="translate(225.34,3094.22) scale(0.913,1)" font-size="58" font-weight="bold">40</text>
<text transform="translate(225.34,3005.93) scale(0.913,1)" font-size="58" font-weight="bold">60</text>
<text transform="translate(225.34,2917.64) scale(0.913,1)" font-size="58" font-weight="bold">80</text>
<text transform="translate(195.95,2829.35) scale(0.913,1)" font-size="58" font-weight="bold">100</text><rect x="197.69" y="2820.93" width="10.45" height="10.52" fill="#fff"/><rect x="215.75" y="2820.93" width="9.76" height="10.52" fill="#fff"/>
<text transform="translate(195.95,2741.06) scale(0.913,1)" font-size="58" font-weight="bold">120</text><rect x="197.69" y="2732.64" width="10.45" height="10.52" fill="#fff"/><rect x="215.75" y="2732.64" width="9.76" height="10.52" fill="#fff"/>
<text transform="translate(195.95,2652.77) scale(0.913,1)" font-size="58" font-weight="bold">140</text><rect x="197.69" y="2644.35" width="10.45" height="10.52" fill="#fff"/><rect x="215.75" y="2644.35" width="9.76" height="10.52" fill="#fff"/>
<text transform="translate(195.95,2564.48) scale(0.913,1)" font-size="58" font-weight="bold">160</text><rect x="197.69" y="2556.06" width="10.45" height="10.52" fill="#fff"/><rect x="215.75" y="2556.06" width="9.76" height="10.52" fill="#fff"/>
<text transform="translate(195.95,2476.19) scale(0.913,1)" font-size="58" font-weight="bold">180</text><rect x="197.69" y="2467.77" width="10.45" height="10.52" fill="#fff"/><rect x="215.75" y="2467.77" width="9.76" height="10.52" fill="#fff"/>
<text transform="translate(195.95,2387.9) scale(0.913,1)" font-size="58" font-weight="bold">200</text>
<text transform="translate(195.95,2299.61) scale(0.913,1)" font-size="58" font-weight="bold">220</text>
<text transform="translate(195.95,2211.32) scale(0.913,1)" font-size="58" font-weight="bold">240</text>
<text transform="translate(195.95,2123.03) scale(0.913,1)" font-size="58" font-weight="bold">260</text>
<text transform="translate(438.31,3519) scale(0.913,1)" font-size="58" font-weight="bold">0</text>
<text transform="translate(654.45,3519) scale(0.913,1)" font-size="58" font-weight="bold">100</text><rect x="656.19" y="3510.58" width="10.45" height="10.52" fill="#fff"/><rect x="674.25" y="3510.58" width="9.76" height="10.52" fill="#fff"/>
<text transform="translate(901.45,3519) scale(0.913,1)" font-size="58" font-weight="bold">200</text>
<text transform="translate(1147.91,3519) scale(0.913,1)" font-size="58" font-weight="bold">300</text>
<text transform="translate(1394.38,3519) scale(0.913,1)" font-size="58" font-weight="bold">400</text>
<text transform="translate(1640.18,3519) scale(0.913,1)" font-size="58" font-weight="bold">500</text>
<text transform="translate(1886.25,3519) scale(0.913,1)" font-size="58" font-weight="bold">600</text>
<text transform="translate(2132.18,3519) scale(0.913,1)" font-size="58" font-weight="bold">700</text>
<text transform="translate(541.55,2104.2) scale(0.952,1)" font-size="67" font-weight="bold">b) Model 2</text>
<text transform="translate(1012.65,2104.2) scale(0.952,1)" font-size="67" font-weight="bold">Harmal Roots</text>
<text transform="translate(1143.11,3630.6) scale(0.934,1)" font-size="69" font-weight="bold">Z(ohm)</text>
<text transform="translate(95.6,2963.66) rotate(-90) scale(1,1)" font-size="66.8" font-weight="bold">-Z imag(ohm)</text>
<use href="#bR" x="1924" y="2115.9"/>
<text transform="translate(2016.47,2138.5) scale(1.058,1)" font-size="58.3" font-weight="normal" stroke="#000" stroke-width="2.08" stroke-linejoin="round">Blank</text>
<use href="#bG" x="1924" y="2199"/>
<text transform="translate(2016.34,2221.6) scale(1.014,1)" font-size="58.3" font-weight="normal" stroke="#000" stroke-width="2.17" stroke-linejoin="round">20.1 ppm</text><rect x="2100.32" y="2213.63" width="11.8" height="11.17" fill="#fff"/><rect x="2119.87" y="2213.63" width="11.32" height="11.17" fill="#fff"/>
<use href="#bB" x="1924" y="2282.3"/>
<text transform="translate(2016.34,2304.3) scale(1.014,1)" font-size="58.3" font-weight="normal" stroke="#000" stroke-width="2.17" stroke-linejoin="round">29.1 ppm</text><rect x="2100.32" y="2296.33" width="11.8" height="11.17" fill="#fff"/><rect x="2119.87" y="2296.33" width="11.32" height="11.17" fill="#fff"/>
<use href="#bT" x="1924" y="2363.6"/>
<text transform="translate(2017.82,2386.7) scale(1.014,1)" font-size="58.3" font-weight="normal" stroke="#000" stroke-width="2.17" stroke-linejoin="round">41.5 ppm</text><rect x="2052.49" y="2378.73" width="11.8" height="11.17" fill="#fff"/><rect x="2072.05" y="2378.73" width="11.32" height="11.17" fill="#fff"/>
<use href="#bP" x="1924" y="2445.5"/>
<text transform="translate(2016.34,2468.8) scale(1.014,1)" font-size="58.3" font-weight="normal" stroke="#000" stroke-width="2.17" stroke-linejoin="round">62.1 ppm</text><rect x="2100.32" y="2460.83" width="11.8" height="11.17" fill="#fff"/><rect x="2119.87" y="2460.83" width="11.32" height="11.17" fill="#fff"/>
<use href="#bK" x="1924" y="2528.7"/>
<text transform="translate(2000.94,2551) scale(1.014,1)" font-size="58.3" font-weight="normal" stroke="#000" stroke-width="2.17" stroke-linejoin="round">82.6 ppm</text>
</g>
</svg>
</body></html>
